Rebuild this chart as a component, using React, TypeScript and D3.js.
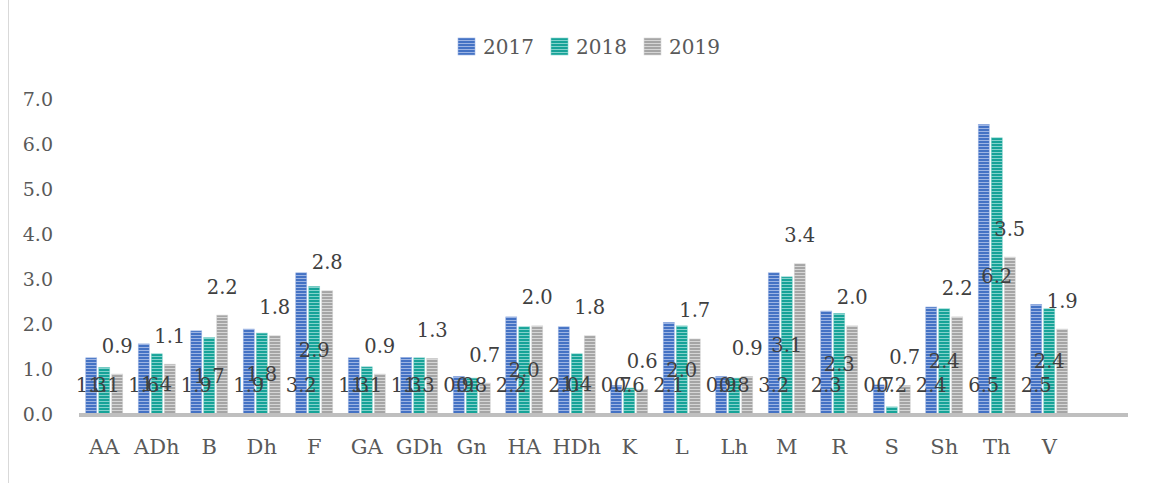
import React from "react";
import * as d3 from "d3";

const categories = ["AA", "ADh", "B", "Dh", "F", "GA", "GDh", "Gn", "HA", "HDh", "K", "L", "Lh", "M", "R", "S", "Sh", "Th", "V"];
const years = ["2017", "2018", "2019"];
const values2017 = [1.27, 1.58, 1.87, 1.91, 3.16, 1.27, 1.28, 0.86, 2.18, 1.96, 0.66, 2.06, 0.86, 3.16, 2.31, 0.67, 2.4, 6.46, 2.46];
const values2018 = [1.06, 1.36, 1.72, 1.82, 2.86, 1.07, 1.27, 0.82, 1.96, 1.36, 0.6, 1.98, 0.82, 3.07, 2.26, 0.18, 2.36, 6.16, 2.36];
const values2019 = [0.91, 1.13, 2.22, 1.76, 2.76, 0.91, 1.26, 0.71, 1.98, 1.76, 0.57, 1.69, 0.86, 3.36, 1.98, 0.66, 2.18, 3.51, 1.91];
const yTicks = [0, 1, 2, 3, 4, 5, 6, 7];

const W = 1153;
const H = 483;
const FONT = '"DejaVu Serif", serif';

// couleur de base + rayure claire pour chaque série
const seriesStyle = [
  { base: "#4472c4", light: "#9db4e3" },
  { base: "#17a398", light: "#84d2cc" },
  { base: "#a5a5a5", light: "#d6d6d6" },
];

const App: React.FC = () => {
  const series = [values2017, values2018, values2019];
  const slot = 52.5;
  const x0 = 78;

  const x = d3
    .scaleBand<string>()
    .domain(categories)
    .range([x0, x0 + slot * categories.length]);
  const axisEnd = x0 + slot * (categories.length + 1);

  const xs = d3.scaleBand<string>().domain(years).range([0, 37]).paddingInner(2 / 13);
  const y = d3.scaleLinear().domain([0, 7]).range([415, 100]);
  const fmt = d3.format(".1f");

  const labels: { x: number; y: number; t: string }[] = [];
  series.forEach((vals, si) => {
    vals.forEach((v, i) => {
      const cx = (x(categories[i]) ?? 0) + x.bandwidth() / 2 - 18.5 + (xs(years[si]) ?? 0) + xs.bandwidth() / 2;
      let ly: number;
      if (si === 0) ly = y(0) - 30;
      else if (si === 1) ly = Math.min(y(v / 2), y(0) - 30);
      else ly = y(v) - 28;
      labels.push({ x: cx, y: ly, t: fmt(v) });
    });
  });

  return (
    <svg
      width={W}
      height={H}
      style={{ position: "absolute", left: 0, top: 0, background: "#fff" }}
    >
      <defs>
        {seriesStyle.map((s, i) => (
          <pattern key={i} id={`stripe${i}`} patternUnits="userSpaceOnUse" width={6} height={3}>
            <rect width={6} height={3} fill={s.base} />
            <rect y={2} width={6} height={1} fill={s.light} />
          </pattern>
        ))}
      </defs>

      <line x1={8.5} x2={8.5} y1={0} y2={H} stroke="#d9d9d9" strokeWidth={1} />

      {/* légende */}
      {years.map((yr, i) => (
        <g key={yr} transform={`translate(${458 + i * 93},38)`}>
          <rect width={17} height={17} fill={`url(#stripe${i})`} stroke={seriesStyle[i].light} strokeWidth={0.6} />
          <text x={25} y={8.5} dominantBaseline="central" fontFamily={FONT} fontSize={20} fill="#595959">
            {yr}
          </text>
        </g>
      ))}

      {/* axe Y */}
      {yTicks.map((t) => (
        <text
          key={t}
          x={53}
          y={y(t) - 1}
          textAnchor="end"
          dominantBaseline="central"
          fontFamily={FONT}
          fontSize={19}
          fill="#595959"
        >
          {fmt(t)}
        </text>
      ))}

      {/* barres */}
      {series.map((vals, si) => (
        <g key={si}>
          {vals.map((v, i) => {
            const bx = (x(categories[i]) ?? 0) + x.bandwidth() / 2 - 18.5 + (xs(years[si]) ?? 0);
            return (
              <rect
                key={i}
                x={bx}
                y={y(v)}
                width={xs.bandwidth()}
                height={y(0) - y(v)}
                fill={`url(#stripe${si})`}
                stroke={seriesStyle[si].light}
                strokeWidth={0.6}
              />
            );
          })}
        </g>
      ))}

      <line x1={79} x2={axisEnd} y1={415} y2={415} stroke="#bfbfbf" strokeWidth={4} />

      {/* catégories */}
      {categories.map((c) => (
        <text
          key={c}
          x={(x(c) ?? 0) + x.bandwidth() / 2}
          y={447}
          textAnchor="middle"
          dominantBaseline="central"
          fontFamily={FONT}
          fontSize={21}
          fill="#595959"
        >
          {c}
        </text>
      ))}

      {/* étiquettes de données */}
      {labels.map((l, i) => (
        <text
          key={i}
          x={l.x}
          y={l.y}
          textAnchor="middle"
          dominantBaseline="central"
          fontFamily={FONT}
          fontSize={19.5}
          fill="#404040"
        >
          {l.t}
        </text>
      ))}
    </svg>
  );
};

export default App;
